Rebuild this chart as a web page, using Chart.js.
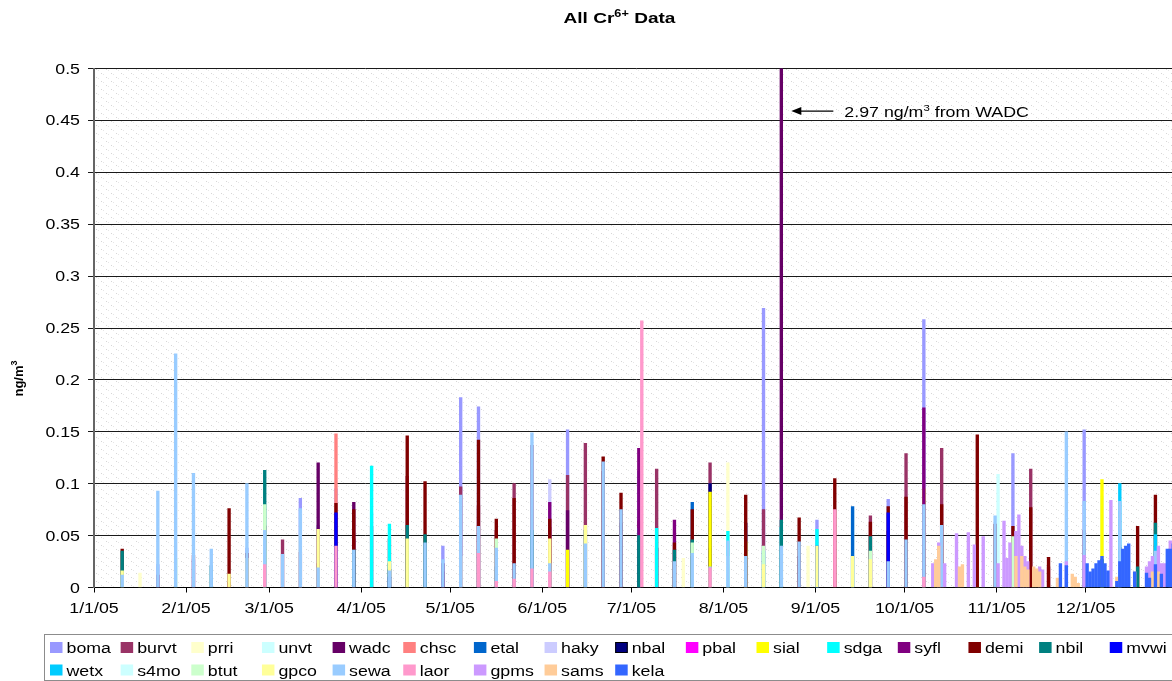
<!DOCTYPE html>
<html><head><meta charset="utf-8">
<script src="https://cdn.jsdelivr.net/npm/chart.js@4.4.1/dist/chart.umd.min.js"></script>
<style>html,body{margin:0;padding:0;background:#fff;overflow:hidden;width:1172px;height:681px}canvas{display:block}</style>
</head><body><canvas id="c" width="1180" height="681"></canvas>
<script>
// ---- data (x = day of 2005, 0 = Jan 1; y = Cr6+ ng/m3) ----
const siteNames = ['boma','burvt','prri','unvt','wadc','chsc','etal','haky','nbal','pbal','sial','sdga','syfl','demi','nbil','mvwi','wetx','s4mo','btut','gpco','sewa','laor','gpms','sams','kela'];
const siteColors = ['#9999FF','#993366','#FFFFCC','#CCFFFF','#660066','#FF8080','#0066CC','#CCCCFF','#000080','#FF00FF','#FFFF00','#00FFFF','#800080','#800000','#008080','#0000FF','#00CCFF','#CCFFFF','#CCFFCC','#FFFF99','#99CCFF','#FF99CC','#CC99FF','#FFCC99','#3366FF'];

const boma = [[21,0.022],[33,0.027],[51,0.038],[69,0.086],[75,0.06],[81,0.095],[117,0.04],[123,0.183],[129,0.174],[159,0.152],[177,0.06],[183,0.112],[225,0.269],[243,0.065],[267,0.085],[279,0.258],[309,0.129],[333,0.152]];
const burvt = [[21,0.012],[33,0.031],[45,0.005],[57,0.059],[63,0.046],[69,0.034],[75,0.023],[81,0.024],[87,0.047],[93,0.059],[99,0.047],[105,0.107],[117,0.015],[123,0.097],[129,0.079],[135,0.055],[141,0.1],[147,0.137],[153,0.058],[159,0.108],[165,0.139],[171,0.112],[177,0.062],[183,0.064],[189,0.114],[207,0.12],[213,0.022],[225,0.075],[237,0.03],[261,0.069],[267,0.054],[273,0.129],[285,0.134],[315,0.114],[321,0.02],[333,0.055]];
const prri = [[15,0.014],[57,0.036],[69,0.05],[123,0.03],[198,0.028],[213,0.12],[240,0.04]];
const unvt = [[111,0.023],[219,0.054],[255,0.074],[297,0.049],[304,0.109],[339,0.088]];
const wadc = [[75,0.12],[87,0.082],[99,0.017],[117,0.023],[159,0.074],[189,0.038],[207,0.038],[231,2.97]];
const chsc = [[81,0.148]];
const etal = [[135,0.02],[201,0.082],[255,0.078]];
const haky = [[93,0.072],[141,0.02],[153,0.104]];
const nbal = [[99,0.017],[201,0.03],[207,0.1],[219,0.062]];
const pbal = [];
const sial = [[159,0.036],[207,0.092],[219,0.044],[279,0.095],[297,0.033],[339,0.104]];
const sdga = [[93,0.117],[99,0.061],[183,0.057],[189,0.057],[213,0.054],[225,0.035],[231,0.058],[243,0.056]];
const syfl = [[153,0.082],[183,0.134],[195,0.065],[279,0.173]];
const demi = [[9,0.037],[45,0.076],[51,0.033],[81,0.081],[87,0.075],[105,0.146],[111,0.102],[129,0.142],[135,0.066],[141,0.086],[153,0.066],[171,0.126],[177,0.091],[195,0.043],[201,0.075],[219,0.089],[237,0.067],[249,0.105],[261,0.063],[267,0.078],[273,0.087],[285,0.08],[297,0.147],[303,0.061],[309,0.059],[315,0.077],[321,0.029],[345,0.039],[351,0.059],[357,0.089]];
const nbil = [[9,0.035],[39,0.021],[57,0.113],[87,0.036],[99,0.023],[105,0.06],[111,0.051],[147,0.055],[165,0.055],[183,0.05],[195,0.036],[201,0.046],[231,0.065],[261,0.049],[339,0.027],[351,0.02],[357,0.062]];
const mvwi = [[81,0.072],[99,0.01],[243,0.04],[267,0.072]];
const wetx = [[345,0.1],[357,0.051]];
const s4mo = [[213,0.03]];
const btut = [[27,0.028],[57,0.08],[135,0.047],[201,0.043],[225,0.04],[261,0.035],[309,0.049]];
const gpco = [[9,0.016],[45,0.013],[51,0.028],[75,0.056],[99,0.025],[105,0.047],[153,0.047],[165,0.06],[225,0.022],[243,0.04],[255,0.03],[261,0.027]];
const sewa = [[9,0.012],[21,0.093],[27,0.225],[33,0.11],[39,0.037],[51,0.1],[57,0.055],[63,0.032],[69,0.076],[75,0.019],[87,0.036],[99,0.016],[111,0.043],[117,0.027],[123,0.089],[129,0.059],[135,0.038],[141,0.023],[147,0.149],[153,0.023],[165,0.042],[171,0.121],[177,0.075],[195,0.025],[201,0.033],[207,0.02],[213,0.045],[219,0.03],[231,0.04],[237,0.044],[267,0.025],[273,0.046],[279,0.08],[285,0.06],[303,0.069],[327,0.15],[333,0.083],[345,0.083],[357,0.035]];
const laor = [[57,0.022],[81,0.04],[129,0.033],[135,0.006],[141,0.008],[147,0.018],[153,0.015],[184,0.257],[207,0.019],[249,0.075],[279,0.01]];
const gpms = [[282,0.023],[284,0.043],[286,0.023],[290,0.052],[294,0.053],[296,0.041],[299,0.049],[304,0.023],[306,0.064],[307,0.028],[308,0.043],[310,0.054],[311,0.07],[312,0.04],[313,0.03],[314,0.025],[318,0.02],[319,0.017],[327,0.025],[333,0.031],[342,0.084],[354,0.02],[355,0.025],[356,0.03],[358,0.04],[359,0.023],[360,0.023],[362,0.045]];
const sams = [[283,0.027],[284,0.04],[291,0.02],[292,0.022],[310,0.03],[312,0.03],[313,0.02],[314,0.017],[316,0.02],[317,0.018],[318,0.015],[324,0.009],[329,0.013],[330,0.01],[331,0.004],[344,0.01],[350,0.015],[356,0.015],[358,0.015]];
const kela = [[325,0.023],[327,0.021],[334,0.023],[335,0.015],[336,0.018],[337,0.023],[338,0.026],[339,0.03],[340,0.023],[341,0.016],[344,0.006],[345,0.025],[346,0.037],[347,0.04],[348,0.042],[350,0.015],[354,0.014],[355,0.009],[357,0.022],[359,0.013],[361,0.037],[362,0.037],[363,0.042]];

const siteValues = [boma,burvt,prri,unvt,wadc,chsc,etal,haky,nbal,pbal,sial,sdga,syfl,demi,nbil,mvwi,wetx,s4mo,btut,gpco,sewa,laor,gpms,sams,kela];

const monthStartDays = [0,31,59,90,120,151,181,212,243,273,304,334];
const monthLabels = ['1/1/05','2/1/05','3/1/05','4/1/05','5/1/05','6/1/05','7/1/05','8/1/05','9/1/05','10/1/05','11/1/05','12/1/05'];
const yTicks = [0,0.05,0.1,0.15,0.2,0.25,0.3,0.35,0.4,0.45,0.5];
const yTickLabels = ['0','0.05','0.1','0.15','0.2','0.25','0.3','0.35','0.4','0.45','0.5'];
const annotatedSite = 'wadc';

// each day is a slot [d-0.5, d+0.5]; month ticks sit on the slot's start
const dayStart = d => d - 0.5;

// ---- drawing helpers ----
const FONT = '"Liberation Sans", Arial, sans-serif';
const STRETCH = 1.27;
function fontOf(r){ return (r.bold ? 'bold ' : '') + r.size + 'px ' + FONT; }
function drawRuns(ctx, runs, x, y, align, stretch){
  let w = 0;
  runs.forEach(r => { ctx.font = fontOf(r); r.w = ctx.measureText(r.text).width; w += r.w; });
  ctx.save();
  ctx.translate(x, y); ctx.scale(stretch, 1);
  let cx = align === 'center' ? -w/2 : (align === 'right' ? -w : 0);
  ctx.textAlign = 'left'; ctx.textBaseline = 'alphabetic'; ctx.fillStyle = '#000';
  runs.forEach(r => { ctx.font = fontOf(r); ctx.fillText(r.text, cx, -(r.rise || 0)); cx += r.w; });
  ctx.restore();
  return w * stretch;
}

// dotted background pattern
const pc = document.createElement('canvas'); pc.width = 10; pc.height = 8;
const pctx = pc.getContext('2d');
pctx.fillStyle = '#fff'; pctx.fillRect(0,0,10,8);
pctx.fillStyle = '#d6d6d6';
pctx.fillRect(1,1,1,1); pctx.fillRect(6,5,1,1);
pctx.fillStyle = '#e6e6e6';
pctx.fillRect(3,2,1,1); pctx.fillRect(8,6,1,1);

const decor = {
  id: 'decor',
  beforeDraw(chart){
    const {ctx, chartArea: a} = chart;
    ctx.save();
    ctx.fillStyle = '#fff'; ctx.fillRect(0,0,chart.width,chart.height);
    ctx.fillStyle = ctx.createPattern(pc, 'repeat');
    ctx.fillRect(a.left, a.top, a.right - a.left, a.bottom - a.top);
    ctx.restore();
  },
  afterDraw(chart){
    const {ctx} = chart;
    const xs = chart.scales.x, ys = chart.scales.y;
    // title
    drawRuns(ctx, [{text:'All Cr', size:15, bold:true},{text:'6+', size:10, bold:true, rise:6},{text:' Data', size:15, bold:true}], 619.5, 23, 'center', STRETCH);
    // y axis title
    ctx.save(); ctx.translate(22.5, 378.5); ctx.rotate(-Math.PI/2);
    drawRuns(ctx, [{text:'ng/m', size:13, bold:true},{text:'3', size:9, bold:true, rise:6}], 0, 0, 'center', 1);
    ctx.restore();
    // y tick labels
    yTicks.forEach((v,i) => {
      drawRuns(ctx, [{text:yTickLabels[i], size:14}], 80, ys.getPixelForValue(v) + 5, 'right', STRETCH);
    });
    // x tick labels
    monthStartDays.forEach((d,i) => {
      drawRuns(ctx, [{text:monthLabels[i], size:14}], xs.getPixelForValue(dayStart(d)), 613, 'center', STRETCH);
    });
    // annotation for the off-scale value
    const si = siteNames.indexOf(annotatedSite);
    const peak = siteValues[si].reduce((m,p) => p[1] > m[1] ? p : m);
    const tipX = xs.getPixelForValue(peak[0]) + 10;
    const tipY = ys.getPixelForValue(0.459);
    ctx.save();
    ctx.strokeStyle = '#000'; ctx.fillStyle = '#000'; ctx.lineWidth = 1.3;
    ctx.beginPath(); ctx.moveTo(tipX + 6, tipY); ctx.lineTo(tipX + 42, tipY); ctx.stroke();
    ctx.beginPath(); ctx.moveTo(tipX, tipY); ctx.lineTo(tipX + 10, tipY - 4); ctx.lineTo(tipX + 10, tipY + 4); ctx.closePath(); ctx.fill();
    ctx.restore();
    drawRuns(ctx, [{text:peak[1].toFixed(2) + ' ng/m', size:14},{text:'3', size:9, rise:6},{text:' from ' + annotatedSite.toUpperCase(), size:14}], tipX + 53, tipY + 6, 'left', STRETCH);
    // legend
    ctx.save();
    ctx.strokeStyle = '#8c8c8c'; ctx.lineWidth = 1;
    ctx.strokeRect(44.5, 634.5, 1200, 46);
    ctx.restore();
    siteNames.forEach((name, i) => {
      const row = i < 16 ? 0 : 1;
      const col = row === 0 ? i : i - 16;
      const sx = 50 + 70.65 * col;
      const sy = row === 0 ? 642 : 664.5;
      ctx.fillStyle = siteColors[i];
      ctx.fillRect(sx, sy, 12.5, 11);
      if (name === 'nbal') { ctx.strokeStyle = '#000'; ctx.lineWidth = 1; ctx.strokeRect(sx + 0.5, sy + 0.5, 11.5, 10); }
      drawRuns(ctx, [{text:name, size:14}], sx + 16.5, sy + 11, 'left', STRETCH);
    });
  }
};

new Chart(document.getElementById('c'), {
  type: 'bar',
  data: {
    datasets: siteNames.map((name, i) => ({
      label: name,
      data: siteValues[i].map(([d, v]) => ({x: d, y: v})),
      backgroundColor: siteColors[i],
      borderWidth: 0,
      barThickness: 2.7,
      grouped: false,
      order: siteNames.length - i
    }))
  },
  options: {
    responsive: false,
    animation: false,
    layout: {padding: {top: 68.5, left: 0, right: 2.3, bottom: 0}},
    plugins: {legend: {display: false}, tooltip: {enabled: false}, title: {display: false}},
    scales: {
      x: {
        type: 'linear', min: dayStart(0), max: dayStart(365), offset: false,
        grid: {display: true, drawOnChartArea: false, drawTicks: true, tickLength: 5, color: '#000', offset: false},
        border: {display: true, color: '#000', width: 1},
        ticks: {display: false},
        afterBuildTicks: s => { s.ticks = monthStartDays.map(v => ({value: dayStart(v)})); },
        afterFit: s => { s.height = 93.5; }
      },
      y: {
        type: 'linear', min: 0, max: 0.5,
        grid: {color: '#1a1a1a', lineWidth: 1, drawTicks: true, tickLength: 6},
        border: {display: true, color: '#666', width: 2},
        ticks: {display: false},
        afterBuildTicks: s => { s.ticks = yTicks.map(v => ({value: v})); },
        afterFit: s => { s.width = 94; }
      }
    }
  },
  plugins: [decor]
});
</script>
</body></html>
